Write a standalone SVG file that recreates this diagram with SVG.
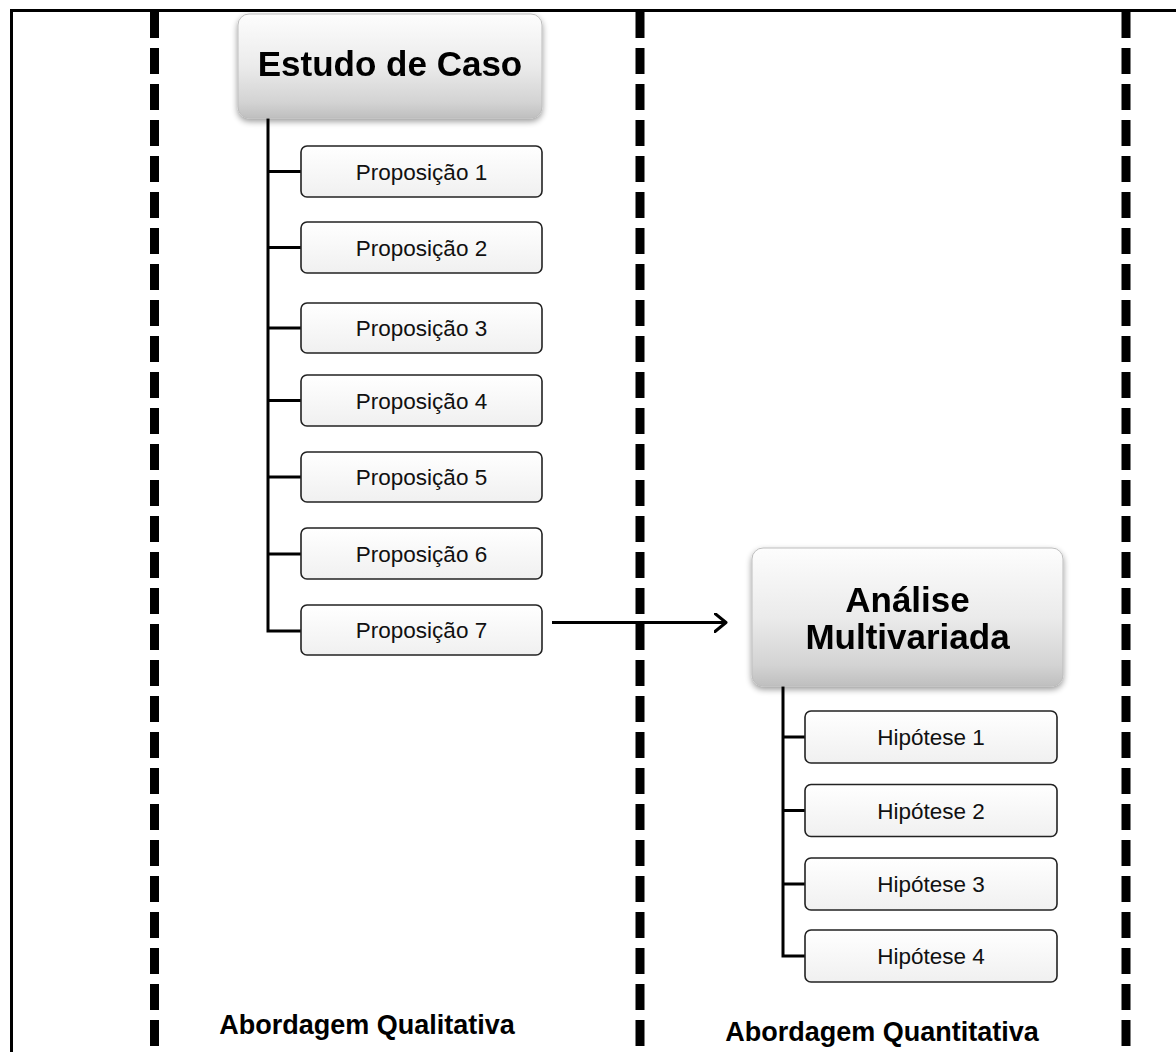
<svg xmlns="http://www.w3.org/2000/svg" width="1176" height="1052" viewBox="0 0 1176 1052">
  <style>
    .frame { fill: none; stroke: #000; stroke-width: 3; }
    .divider { fill: none; stroke: #000; stroke-width: 9; stroke-dasharray: 26 10; }
    .wire { fill: none; stroke: #000; stroke-width: 3; }
    .head { fill: url(#headFill); stroke: #bdbdbd; stroke-width: 1; }
    .headText { font-family: "Liberation Sans", Arial, sans-serif; font-weight: bold; font-size: 35px; fill: #000; text-anchor: middle; }
    .item { fill: url(#itemFill); stroke: #222; stroke-width: 1.6; }
    .itemText { font-family: "Liberation Sans", Arial, sans-serif; font-size: 22.5px; fill: #111; text-anchor: middle; }
    .label { font-family: "Liberation Sans", Arial, sans-serif; font-weight: bold; font-size: 27px; fill: #000; text-anchor: middle; }
  </style>
  <defs>
    <linearGradient id="headFill" x1="0" y1="0" x2="0" y2="1">
      <stop offset="0" stop-color="#fdfdfd"/>
      <stop offset="0.5" stop-color="#ebebeb"/>
      <stop offset="0.85" stop-color="#d3d3d3"/>
      <stop offset="1" stop-color="#bfbfbf"/>
    </linearGradient>
    <linearGradient id="itemFill" x1="0" y1="0" x2="0" y2="1">
      <stop offset="0" stop-color="#ffffff"/>
      <stop offset="1" stop-color="#f0f0f0"/>
    </linearGradient>
    <filter id="shadow" x="-10%" y="-10%" width="120%" height="130%">
      <feGaussianBlur in="SourceAlpha" stdDeviation="3"/>
      <feOffset dx="0" dy="3" result="b"/>
      <feComponentTransfer><feFuncA type="linear" slope="0.4"/></feComponentTransfer>
      <feMerge><feMergeNode/><feMergeNode in="SourceGraphic"/></feMerge>
    </filter>
    <marker id="chevron" viewBox="0 0 14 20" refX="12" refY="10" markerWidth="14" markerHeight="20" markerUnits="userSpaceOnUse" orient="auto">
      <path d="M1,1 L12,10 L1,19" fill="none" stroke="#000" stroke-width="3" stroke-linecap="round" stroke-linejoin="round"/>
    </marker>
  </defs>

  <!-- outer frame (top and left edges) -->
  <path class="frame" d="M11.5,1052 V10.5 H1176"/>

  <!-- column dividers -->
  <line class="divider" x1="154.5" y1="12" x2="154.5" y2="1052"/>
  <line class="divider" x1="640" y1="12" x2="640" y2="1052"/>
  <line class="divider" x1="1126" y1="12" x2="1126" y2="1052"/>

  <!-- connectors -->
  <g id="connectors">
    <path class="wire" d="M268,118 V631 H301"/>
    <path class="wire" d="M268,171.5 H301 M268,247.5 H301 M268,328 H301 M268,400.5 H301 M268,477 H301 M268,554 H301"/>
    <path class="wire" d="M783,686 V956 H805"/>
    <path class="wire" d="M783,737 H805 M783,810.5 H805 M783,884 H805"/>
    <line class="wire" x1="552" y1="622.5" x2="726" y2="622.5" marker-end="url(#chevron)"/>
  </g>

  <!-- qualitative column -->
  <g id="estudo-de-caso" filter="url(#shadow)">
    <rect class="head" x="238" y="14" width="304" height="104" rx="11"/>
    <text class="headText" x="390" y="76">Estudo de Caso</text>
  </g>
  <g id="proposicao-1">
    <rect class="item" x="301" y="146" width="241" height="51" rx="6"/>
    <text class="itemText" x="421.5" y="179.5">Proposição 1</text>
  </g>
  <g id="proposicao-2">
    <rect class="item" x="301" y="222" width="241" height="51" rx="6"/>
    <text class="itemText" x="421.5" y="255.5">Proposição 2</text>
  </g>
  <g id="proposicao-3">
    <rect class="item" x="301" y="303" width="241" height="50" rx="6"/>
    <text class="itemText" x="421.5" y="336">Proposição 3</text>
  </g>
  <g id="proposicao-4">
    <rect class="item" x="301" y="375" width="241" height="51" rx="6"/>
    <text class="itemText" x="421.5" y="408.5">Proposição 4</text>
  </g>
  <g id="proposicao-5">
    <rect class="item" x="301" y="452" width="241" height="50" rx="6"/>
    <text class="itemText" x="421.5" y="485">Proposição 5</text>
  </g>
  <g id="proposicao-6">
    <rect class="item" x="301" y="528" width="241" height="51" rx="6"/>
    <text class="itemText" x="421.5" y="562">Proposição 6</text>
  </g>
  <g id="proposicao-7">
    <rect class="item" x="301" y="605" width="241" height="50" rx="6"/>
    <text class="itemText" x="421.5" y="638">Proposição 7</text>
  </g>

  <!-- quantitative column -->
  <g id="analise-multivariada" filter="url(#shadow)">
    <rect class="head" x="752" y="548" width="311" height="138" rx="11"/>
    <text class="headText" x="907.5" y="611.5">Análise</text>
    <text class="headText" x="907.5" y="648.5">Multivariada</text>
  </g>
  <g id="hipotese-1">
    <rect class="item" x="805" y="711" width="252" height="52" rx="6"/>
    <text class="itemText" x="931" y="745">Hipótese 1</text>
  </g>
  <g id="hipotese-2">
    <rect class="item" x="805" y="784.5" width="252" height="52" rx="6"/>
    <text class="itemText" x="931" y="818.5">Hipótese 2</text>
  </g>
  <g id="hipotese-3">
    <rect class="item" x="805" y="858" width="252" height="52" rx="6"/>
    <text class="itemText" x="931" y="892">Hipótese 3</text>
  </g>
  <g id="hipotese-4">
    <rect class="item" x="805" y="930" width="252" height="52" rx="6"/>
    <text class="itemText" x="931" y="964">Hipótese 4</text>
  </g>

  <!-- column captions -->
  <text class="label" x="367" y="1034">Abordagem Qualitativa</text>
  <text class="label" x="882" y="1041">Abordagem Quantitativa</text>
</svg>
